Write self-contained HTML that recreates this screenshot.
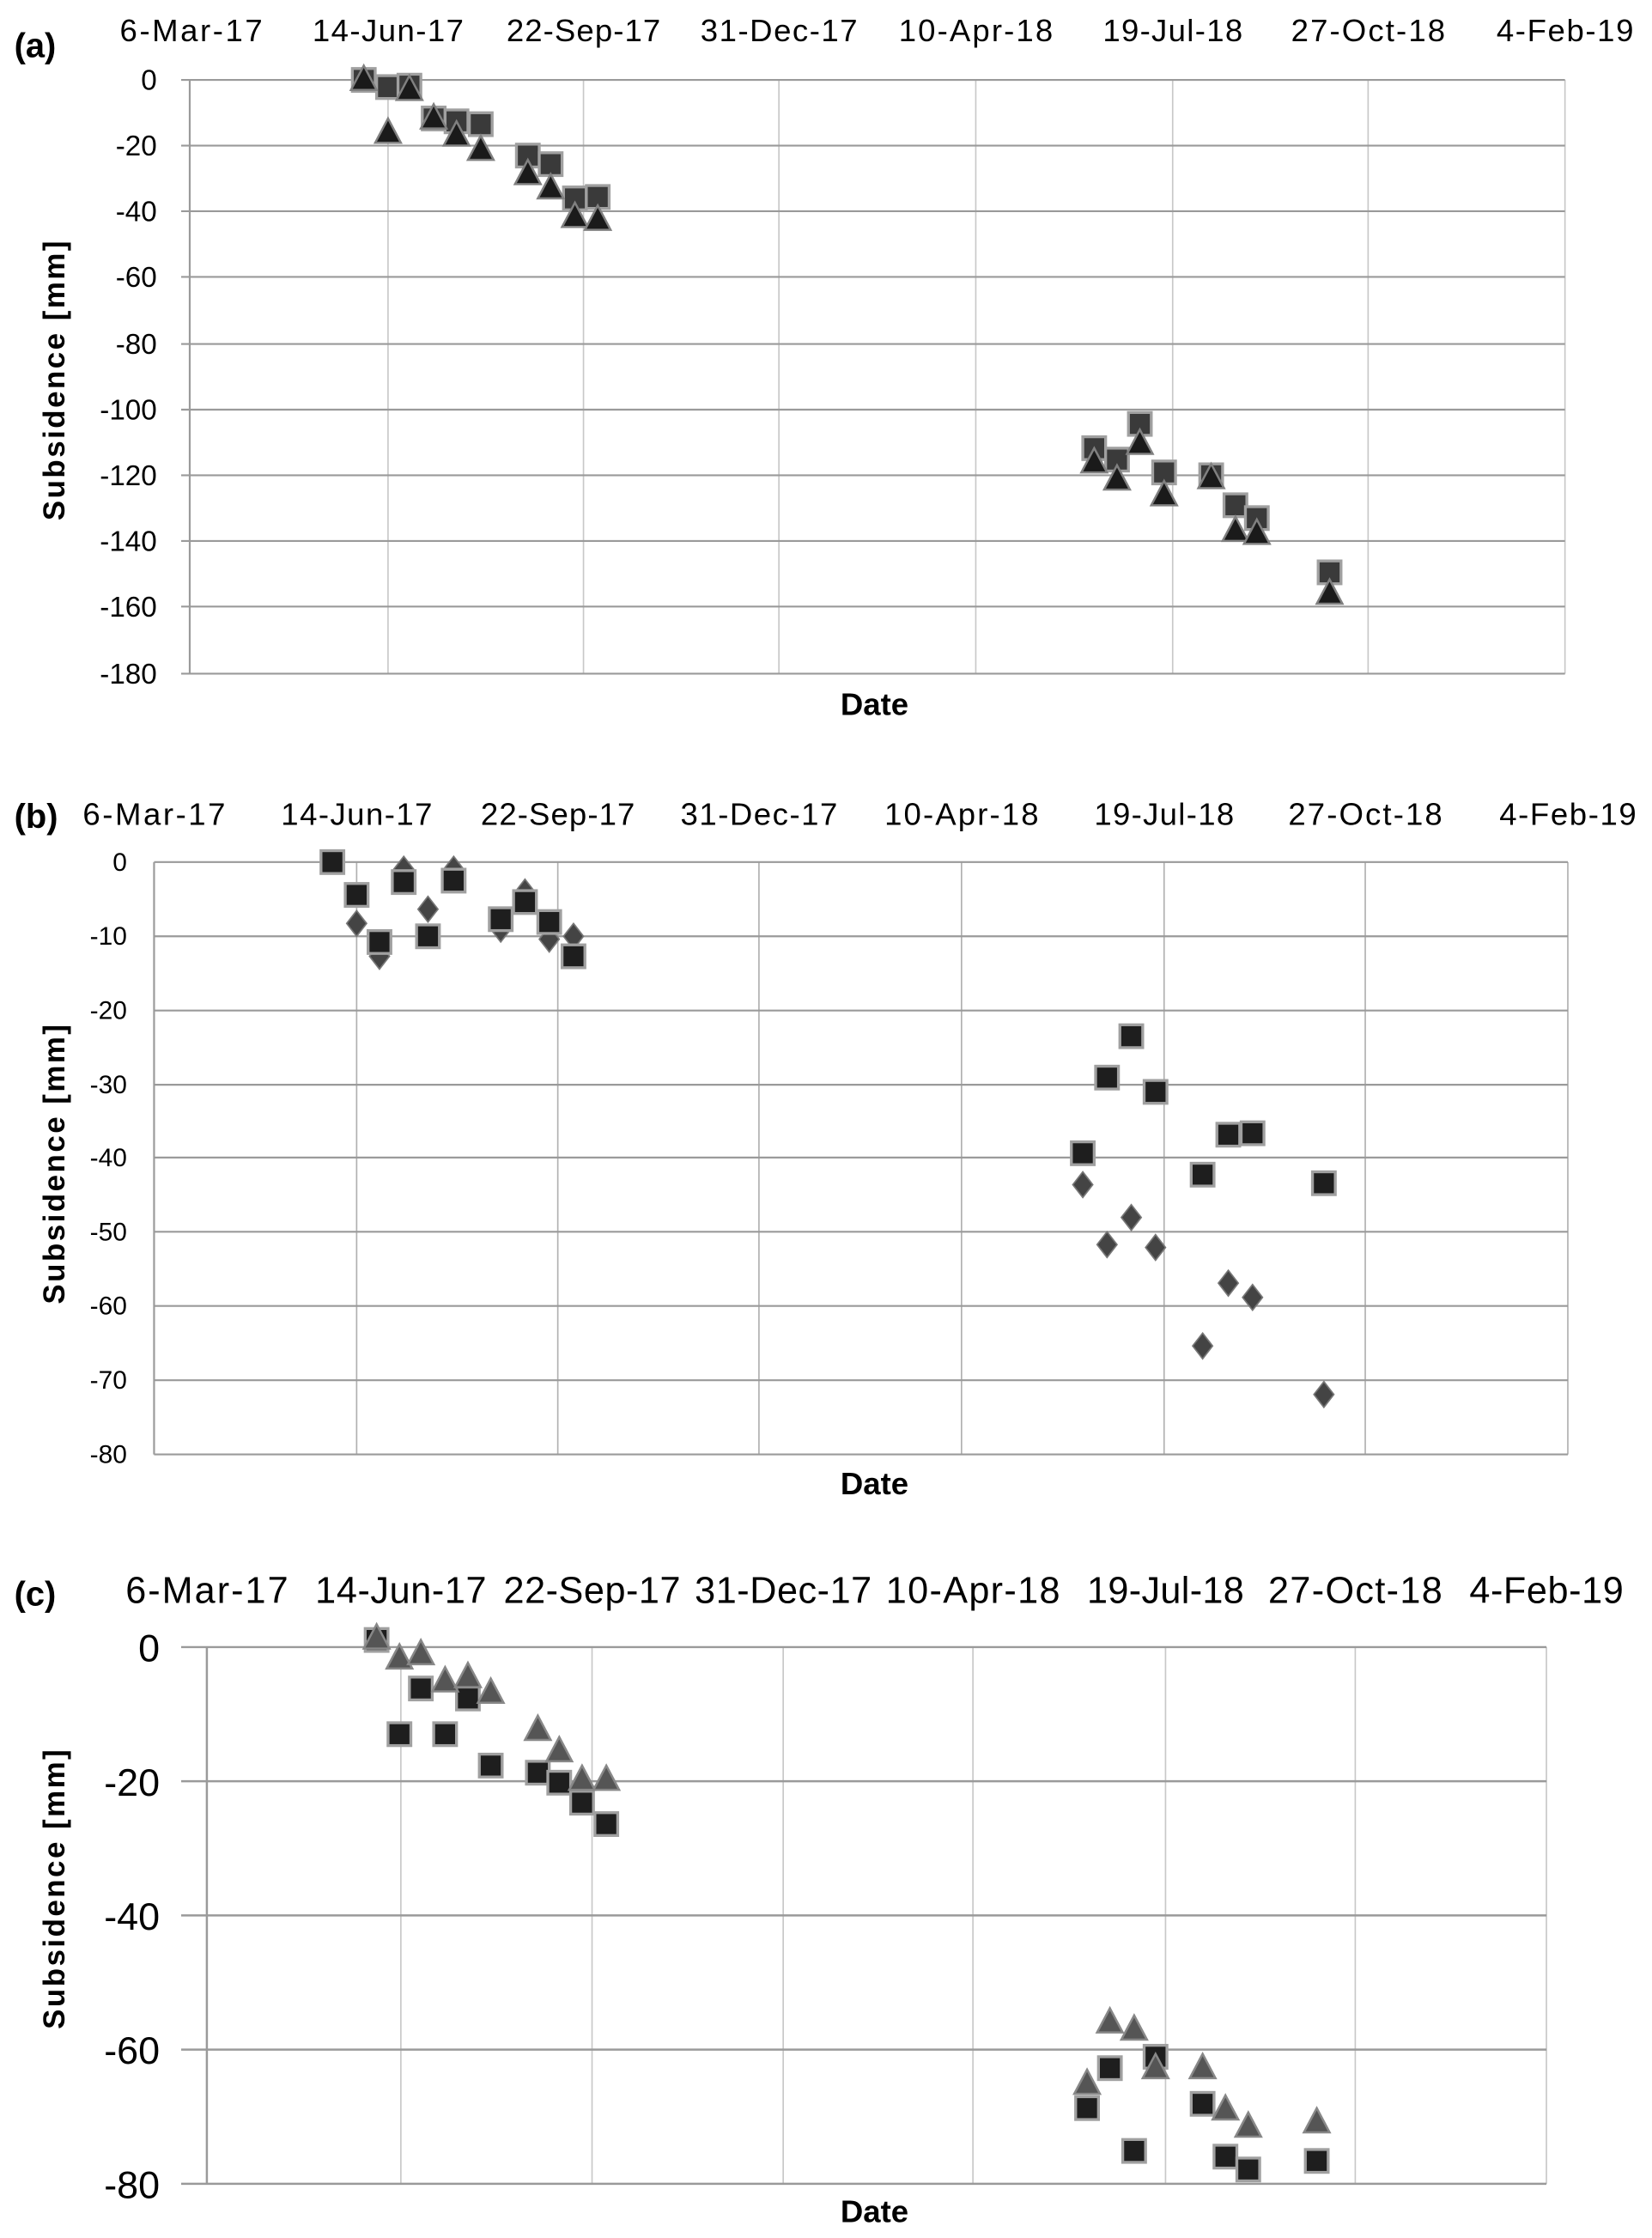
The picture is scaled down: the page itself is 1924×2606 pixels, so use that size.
<!DOCTYPE html>
<html><head><meta charset="utf-8"><style>html,body{margin:0;padding:0;background:#fff}svg{display:block}</style></head>
<body>
<svg width="1924" height="2606" viewBox="0 0 1158 1568" preserveAspectRatio="none" xmlns="http://www.w3.org/2000/svg">
<defs>
<g id="sq"><rect x="-8" y="-8" width="16" height="16" fill="#3a3a3a" stroke="#a0a0a0" stroke-width="2"/></g>
<g id="sqb"><rect x="-8" y="-8" width="16" height="16" fill="#1e1e1e" stroke="#a0a0a0" stroke-width="2"/></g>
<g id="tr"><polygon points="0,-10 9,7 -9,7" fill="#1a1a1a" stroke="#808080" stroke-width="1.5"/></g>
<g id="trg"><polygon points="0,-10 9,7 -9,7" fill="#555" stroke="#888" stroke-width="1.5"/></g>
<g id="di"><polygon points="0,-9 7,0 0,9 -7,0" fill="#444" stroke="#777" stroke-width="1"/></g>
</defs>
<g font-family="'Liberation Sans Narrow','Liberation Sans',sans-serif" fill="#000">

<!-- Panel A -->
<g stroke="#c8c8c8" stroke-width="1">
<line x1="272" y1="56" x2="272" y2="472"/><line x1="409" y1="56" x2="409" y2="472"/><line x1="546" y1="56" x2="546" y2="472"/><line x1="684" y1="56" x2="684" y2="472"/><line x1="822" y1="56" x2="822" y2="472"/><line x1="959" y1="56" x2="959" y2="472"/><line x1="1097" y1="56" x2="1097" y2="472"/>
</g>
<g stroke="#9a9a9a" stroke-width="1.3">
<line x1="127" y1="56" x2="1097" y2="56"/><line x1="127" y1="102" x2="1097" y2="102"/><line x1="127" y1="148" x2="1097" y2="148"/><line x1="127" y1="194" x2="1097" y2="194"/><line x1="127" y1="241" x2="1097" y2="241"/><line x1="127" y1="287" x2="1097" y2="287"/><line x1="127" y1="333" x2="1097" y2="333"/><line x1="127" y1="379" x2="1097" y2="379"/><line x1="127" y1="425" x2="1097" y2="425"/><line x1="127" y1="472" x2="1097" y2="472"/>
<line x1="133" y1="56" x2="133" y2="472"/>
</g>
<g font-size="22" text-anchor="middle">
<text x="134" y="29" textLength="100">6-Mar-17</text><text x="272" y="29" textLength="106">14-Jun-17</text><text x="409" y="29" textLength="108">22-Sep-17</text><text x="546" y="29" textLength="110">31-Dec-17</text><text x="684" y="29" textLength="108">10-Apr-18</text><text x="822" y="29" textLength="98">19-Jul-18</text><text x="959" y="29" textLength="108">27-Oct-18</text><text x="1097" y="29" textLength="96">4-Feb-19</text>
</g>
<g font-size="20" text-anchor="end">
<text x="110" y="63">0</text><text x="110" y="109">-20</text><text x="110" y="155">-40</text><text x="110" y="201">-60</text><text x="110" y="248">-80</text><text x="110" y="294">-100</text><text x="110" y="340">-120</text><text x="110" y="386">-140</text><text x="110" y="432">-160</text><text x="110" y="479">-180</text>
</g>
<text x="10" y="40" font-size="24" font-weight="bold" font-family="'Liberation Sans',sans-serif">(a)</text>
<text x="613" y="501" font-size="22" font-weight="bold" text-anchor="middle" font-family="'Liberation Sans',sans-serif">Date</text>
<text transform="translate(45,266) rotate(-90)" font-size="21" font-weight="bold" text-anchor="middle" letter-spacing="1.5" font-family="'Liberation Sans',sans-serif">Subsidence [mm]</text>
<g>
<use href="#sq" x="255" y="56"/><use href="#sq" x="272" y="61"/><use href="#sq" x="287" y="60"/><use href="#sq" x="304" y="83"/><use href="#sq" x="320" y="85"/><use href="#sq" x="337" y="87"/><use href="#sq" x="370" y="109"/><use href="#sq" x="386" y="115"/><use href="#sq" x="403" y="139"/><use href="#sq" x="419" y="138"/>
<use href="#sq" x="767" y="314"/><use href="#sq" x="783" y="322"/><use href="#sq" x="799" y="297"/><use href="#sq" x="816" y="331"/><use href="#sq" x="849" y="333"/><use href="#sq" x="866" y="354"/><use href="#sq" x="881" y="363"/><use href="#sq" x="932" y="401"/>
<use href="#tr" x="255" y="56"/><use href="#tr" x="272" y="93"/><use href="#tr" x="287" y="63"/><use href="#tr" x="304" y="83"/><use href="#tr" x="320" y="95"/><use href="#tr" x="337" y="105"/><use href="#tr" x="370" y="122"/><use href="#tr" x="386" y="132"/><use href="#tr" x="403" y="152"/><use href="#tr" x="419" y="154"/>
<use href="#tr" x="767" y="324"/><use href="#tr" x="783" y="336"/><use href="#tr" x="799" y="311"/><use href="#tr" x="816" y="347"/><use href="#tr" x="849" y="335"/><use href="#tr" x="866" y="372"/><use href="#tr" x="881" y="374"/><use href="#tr" x="932" y="416"/>
</g>

<!-- Panel B -->
<g stroke="#b0b0b0" stroke-width="1">
<line x1="250" y1="604" x2="250" y2="1019"/><line x1="391" y1="604" x2="391" y2="1019"/><line x1="532" y1="604" x2="532" y2="1019"/><line x1="674" y1="604" x2="674" y2="1019"/><line x1="816" y1="604" x2="816" y2="1019"/><line x1="957" y1="604" x2="957" y2="1019"/><line x1="1099" y1="604" x2="1099" y2="1019"/>
</g>
<g stroke="#9a9a9a" stroke-width="1.3">
<line x1="108" y1="604" x2="1099" y2="604"/><line x1="108" y1="656" x2="1099" y2="656"/><line x1="108" y1="708" x2="1099" y2="708"/><line x1="108" y1="760" x2="1099" y2="760"/><line x1="108" y1="811" x2="1099" y2="811"/><line x1="108" y1="863" x2="1099" y2="863"/><line x1="108" y1="915" x2="1099" y2="915"/><line x1="108" y1="967" x2="1099" y2="967"/><line x1="108" y1="1019" x2="1099" y2="1019"/>
<line x1="108" y1="604" x2="108" y2="1019"/>
</g>
<g font-size="22" text-anchor="middle">
<text x="108" y="578" textLength="100">6-Mar-17</text><text x="250" y="578" textLength="106">14-Jun-17</text><text x="391" y="578" textLength="108">22-Sep-17</text><text x="532" y="578" textLength="110">31-Dec-17</text><text x="674" y="578" textLength="108">10-Apr-18</text><text x="816" y="578" textLength="98">19-Jul-18</text><text x="957" y="578" textLength="108">27-Oct-18</text><text x="1099" y="578" textLength="96">4-Feb-19</text>
</g>
<g font-size="18" text-anchor="end">
<text x="89" y="610">0</text><text x="89" y="662">-10</text><text x="89" y="714">-20</text><text x="89" y="766">-30</text><text x="89" y="817">-40</text><text x="89" y="869">-50</text><text x="89" y="921">-60</text><text x="89" y="973">-70</text><text x="89" y="1025">-80</text>
</g>
<text x="10" y="580" font-size="24" font-weight="bold" font-family="'Liberation Sans',sans-serif">(b)</text>
<text x="613" y="1047" font-size="22" font-weight="bold" text-anchor="middle" font-family="'Liberation Sans',sans-serif">Date</text>
<text transform="translate(45,815) rotate(-90)" font-size="21" font-weight="bold" text-anchor="middle" letter-spacing="1.5" font-family="'Liberation Sans',sans-serif">Subsidence [mm]</text>
<g>
<use href="#di" x="250" y="647"/><use href="#di" x="266" y="670"/><use href="#di" x="283" y="609"/><use href="#di" x="300" y="637"/><use href="#di" x="318" y="609"/><use href="#di" x="351" y="651"/><use href="#di" x="368" y="625"/><use href="#di" x="385" y="658"/><use href="#di" x="402" y="656"/>
<use href="#di" x="759" y="830"/><use href="#di" x="776" y="872"/><use href="#di" x="793" y="853"/><use href="#di" x="810" y="874"/><use href="#di" x="843" y="943"/><use href="#di" x="861" y="899"/><use href="#di" x="878" y="909"/><use href="#di" x="928" y="977"/>
<use href="#sqb" x="233" y="604"/><use href="#sqb" x="250" y="627"/><use href="#sqb" x="266" y="660"/><use href="#sqb" x="283" y="618"/><use href="#sqb" x="300" y="656"/><use href="#sqb" x="318" y="617"/><use href="#sqb" x="351" y="644"/><use href="#sqb" x="368" y="632"/><use href="#sqb" x="385" y="646"/><use href="#sqb" x="402" y="670"/>
<use href="#sqb" x="759" y="808"/><use href="#sqb" x="776" y="755"/><use href="#sqb" x="793" y="726"/><use href="#sqb" x="810" y="765"/><use href="#sqb" x="843" y="823"/><use href="#sqb" x="861" y="795"/><use href="#sqb" x="878" y="794"/><use href="#sqb" x="928" y="829"/>
</g>

<!-- Panel C -->
<g stroke="#c8c8c8" stroke-width="1">
<line x1="281" y1="1154" x2="281" y2="1530"/><line x1="415" y1="1154" x2="415" y2="1530"/><line x1="549" y1="1154" x2="549" y2="1530"/><line x1="682" y1="1154" x2="682" y2="1530"/><line x1="817" y1="1154" x2="817" y2="1530"/><line x1="950" y1="1154" x2="950" y2="1530"/><line x1="1084" y1="1154" x2="1084" y2="1530"/>
</g>
<g stroke="#9a9a9a" stroke-width="1.5">
<line x1="127" y1="1154" x2="1084" y2="1154"/><line x1="127" y1="1248" x2="1084" y2="1248"/><line x1="127" y1="1342" x2="1084" y2="1342"/><line x1="127" y1="1436" x2="1084" y2="1436"/><line x1="127" y1="1530" x2="1084" y2="1530"/>
<line x1="145" y1="1154" x2="145" y2="1530"/>
</g>
<g font-size="26" text-anchor="middle">
<text x="145" y="1123" textLength="114">6-Mar-17</text><text x="281" y="1123" textLength="120">14-Jun-17</text><text x="415" y="1123" textLength="124">22-Sep-17</text><text x="549" y="1123" textLength="124">31-Dec-17</text><text x="682" y="1123" textLength="122">10-Apr-18</text><text x="817" y="1123" textLength="110">19-Jul-18</text><text x="950" y="1123" textLength="122">27-Oct-18</text><text x="1084" y="1123" textLength="108">4-Feb-19</text>
</g>
<g font-size="27" text-anchor="end">
<text x="112" y="1164">0</text><text x="112" y="1258">-20</text><text x="112" y="1352">-40</text><text x="112" y="1446">-60</text><text x="112" y="1540">-80</text>
</g>
<text x="10" y="1125" font-size="24" font-weight="bold" font-family="'Liberation Sans',sans-serif">(c)</text>
<text x="613" y="1557" font-size="22" font-weight="bold" text-anchor="middle" font-family="'Liberation Sans',sans-serif">Date</text>
<text transform="translate(45,1323) rotate(-90)" font-size="21" font-weight="bold" text-anchor="middle" letter-spacing="1.5" font-family="'Liberation Sans',sans-serif">Subsidence [mm]</text>
<g>
<use href="#sqb" x="264" y="1149"/><use href="#sqb" x="280" y="1215"/><use href="#sqb" x="295" y="1183"/><use href="#sqb" x="312" y="1215"/><use href="#sqb" x="328" y="1190"/><use href="#sqb" x="344" y="1237"/><use href="#sqb" x="377" y="1242"/><use href="#sqb" x="392" y="1249"/><use href="#sqb" x="408" y="1263"/><use href="#sqb" x="425" y="1278"/>
<use href="#sqb" x="762" y="1477"/><use href="#sqb" x="778" y="1449"/><use href="#sqb" x="795" y="1507"/><use href="#sqb" x="810" y="1441"/><use href="#sqb" x="843" y="1474"/><use href="#sqb" x="859" y="1511"/><use href="#sqb" x="875" y="1520"/><use href="#sqb" x="923" y="1514"/>
<use href="#trg" x="264" y="1148"/><use href="#trg" x="280" y="1162"/><use href="#trg" x="295" y="1159"/><use href="#trg" x="312" y="1178"/><use href="#trg" x="328" y="1175"/><use href="#trg" x="344" y="1186"/><use href="#trg" x="377" y="1212"/><use href="#trg" x="392" y="1227"/><use href="#trg" x="408" y="1247"/><use href="#trg" x="425" y="1247"/>
<use href="#trg" x="762" y="1460"/><use href="#trg" x="778" y="1417"/><use href="#trg" x="795" y="1422"/><use href="#trg" x="810" y="1449"/><use href="#trg" x="843" y="1449"/><use href="#trg" x="859" y="1478"/><use href="#trg" x="875" y="1490"/><use href="#trg" x="923" y="1487"/>
</g>
</g>
</svg>
</body></html>
